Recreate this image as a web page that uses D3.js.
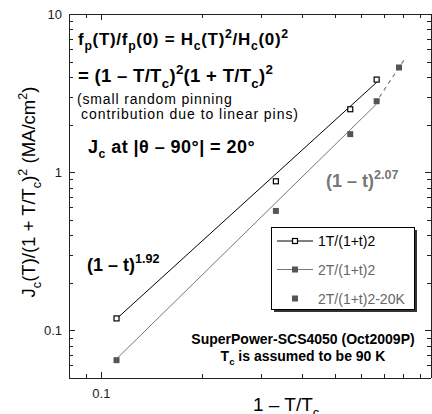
<!DOCTYPE html>
<html>
<head>
<meta charset="utf-8">
<script src="https://cdn.jsdelivr.net/npm/d3@7/dist/d3.min.js"></script>
<style>
  html, body { margin: 0; padding: 0; background: #fff; }
  svg { display: block; font-family: "Liberation Sans", Arial, Helvetica, sans-serif; }
</style>
</head>
<body>
<svg id="chart" width="432" height="414"></svg>
<script>
// 1 - T/Tc for the measured temperatures (80, 60, 40, 30 K; Tc = 90 K)
const oneMinusT = [0.111, 0.333, 0.556, 0.667];
// Jc(T)/(1+T/Tc)^2 in MA/cm^2
const jc1T = [0.119, 0.876, 2.50, 3.85];
const jc2T = [0.0648, 0.569, 1.74, 2.81];
// extra 2 T point at 20 K
const x20K = [0.778];
const jc2T20K = [4.59];
// power-law fits A(1-t)^n
const fitExponents = [1.92, 2.07];
const fitPrefactors = [8.05, 6.25];
const fitRange = [0.111, 0.667];
// dashed extrapolation of the 2 T data through the 20 K point
const extrapX = [0.667, 0.817];
const extrapY = [2.81, 5.36];
// axis ticks
const xMajor = [0.1, 1];
const yMajor = [0.1, 1, 10];
const legendLabels = ["1T/(1+t)2", "2T/(1+t)2", "2T/(1+t)2-20K"];

const svg = d3.select("#chart");
const L = 69, R = 431, T = 14, B = 378;
const x = d3.scaleLog().domain([0.08, 0.97]).range([L, R]);
const y = d3.scaleLog().domain([0.05, 10]).range([B, T]);

const black = "#000", gray = "#777", mark = "#555";

// minor ticks across every decade in the domain
function minors(scale) {
  const [a, b] = scale.domain();
  const out = [];
  for (let e = Math.floor(Math.log10(a)); e <= Math.ceil(Math.log10(b)); e++) {
    for (let m = 1; m < 10; m++) {
      const v = m * Math.pow(10, e);
      if (v >= a * 0.999 && v <= b * 1.001) out.push(v);
    }
  }
  return out;
}
const xTicks = minors(x), yTicks = minors(y);
const isMajor = v => Math.abs(Math.log10(v) - Math.round(Math.log10(v))) < 1e-6;

// frame
const axes = svg.append("g").attr("stroke", "#222").attr("stroke-width", 1).attr("fill", "none");
axes.append("line").attr("x1", L).attr("x2", R).attr("y1", B + 0.5).attr("y2", B + 0.5);
axes.append("line").attr("x1", L).attr("x2", R).attr("y1", T + 0.5).attr("y2", T + 0.5);
axes.append("line").attr("x1", L + 0.5).attr("x2", L + 0.5).attr("y1", T).attr("y2", B);
axes.append("line").attr("x1", R + 0.5).attr("x2", R + 0.5).attr("y1", T).attr("y2", B);

// inward ticks on all four sides
xTicks.forEach(v => {
  const len = isMajor(v) ? 6 : 4, px = Math.round(x(v)) + 0.5;
  axes.append("line").attr("x1", px).attr("x2", px).attr("y1", B).attr("y2", B - len);
  axes.append("line").attr("x1", px).attr("x2", px).attr("y1", T).attr("y2", T + len);
});
yTicks.forEach(v => {
  const len = isMajor(v) ? 6 : 4, py = Math.round(y(v)) + 0.5;
  axes.append("line").attr("x1", L).attr("x2", L + len).attr("y1", py).attr("y2", py);
  axes.append("line").attr("x1", R).attr("x2", R - len).attr("y1", py).attr("y2", py);
});

// tick labels
svg.append("g").selectAll("text").data(yMajor).join("text")
  .attr("x", L - 7).attr("y", d => y(d) + 4.5)
  .attr("text-anchor", "end").attr("font-size", 13).attr("fill", "#222")
  .text(d => d3.format("~g")(d));
svg.append("g").selectAll("text").data(xMajor.filter(v => v <= x.domain()[1])).join("text")
  .attr("x", d => x(d)).attr("y", 398)
  .attr("text-anchor", "middle").attr("font-size", 13).attr("fill", "#222")
  .text(d => d3.format("~g")(d));

// rich text helper: segments [text, mode] with mode "" | "sub" | "sup"
function rich(parent, px, py, segs, opts) {
  const size = opts.size, small = opts.small || 0.68;
  const t = parent.append("text").attr("x", px).attr("y", py)
    .attr("font-size", size).attr("font-weight", opts.bold ? "bold" : "normal")
    .attr("fill", opts.fill || black)
    .attr("letter-spacing", opts.spacing || 0)
    .attr("text-anchor", opts.anchor || "start");
  let level = 0;
  segs.forEach(([s, mode]) => {
    const target = mode === "sub" ? size * 0.3 : mode === "sup" ? -size * 0.42 : 0;
    t.append("tspan").attr("dy", target - level)
      .attr("font-size", mode ? size * small : size).text(s);
    level = target;
  });
  return t;
}

// fit lines
const fitStyle = [{ c: black }, { c: gray }];
fitExponents.forEach((n, i) => {
  const pts = fitRange.map(v => [x(v), y(fitPrefactors[i] * Math.pow(v, n))]);
  svg.append("path").attr("d", d3.line()(pts))
    .attr("stroke", fitStyle[i].c).attr("stroke-width", 1).attr("fill", "none");
});
// extrapolation
svg.append("path")
  .attr("d", d3.line()(extrapX.map((v, i) => [x(v), y(extrapY[i])])))
  .attr("stroke", gray).attr("stroke-width", 1.2).attr("fill", "none")
  .attr("stroke-dasharray", "4,4").attr("stroke-dashoffset", -5);

// markers
svg.append("g").selectAll("rect").data(oneMinusT.map((v, i) => [v, jc1T[i]])).join("rect")
  .attr("x", d => x(d[0]) - 2.5).attr("y", d => y(d[1]) - 2.5)
  .attr("width", 5).attr("height", 5)
  .attr("fill", "#fff").attr("stroke", black).attr("stroke-width", 1.2);
svg.append("g").selectAll("rect").data(oneMinusT.map((v, i) => [v, jc2T[i]])).join("rect")
  .attr("x", d => x(d[0]) - 3).attr("y", d => y(d[1]) - 3)
  .attr("width", 6).attr("height", 6).attr("fill", mark);
svg.append("g").selectAll("rect").data(x20K.map((v, i) => [v, jc2T20K[i]])).join("rect")
  .attr("x", d => x(d[0]) - 3).attr("y", d => y(d[1]) - 3)
  .attr("width", 6).attr("height", 6).attr("fill", mark);

// annotations
rich(svg, 78, 45, [["f"], ["p", "sub"], ["(T)/f"], ["p", "sub"], ["(0) = H"], ["c", "sub"], ["(T)"], ["2", "sup"], ["/H"], ["c", "sub"], ["(0)"], ["2", "sup"]], { size: 17, bold: true, small: 0.72, spacing: 0.7 });
rich(svg, 78, 82, [["= (1 \u2013 T/T"], ["c", "sub"], [")"], ["2", "sup"], ["(1 + T/T"], ["c", "sub"], [")"], ["2", "sup"]], { size: 18.5, bold: true, small: 0.72, spacing: 0.3 });
rich(svg, 77, 104, [["(small random pinning"]], { size: 14, spacing: 0.85 });
rich(svg, 81, 119, [["contribution due to linear pins)"]], { size: 14, spacing: 0.95 });
rich(svg, 88, 153, [["J"], ["c", "sub"], [" at |\u03b8 \u2013 90\u00b0| = 20\u00b0"]], { size: 18, bold: true, spacing: 0.45 });
rich(svg, 87, 271, [["(1 \u2013 t)"], ["1.92", "sup"]], { size: 18, bold: true, small: 0.7 });
rich(svg, 326, 187, [["(1 \u2013 t)"], ["2.07", "sup"]], { size: 18, bold: true, fill: gray, small: 0.7 });
rich(svg, 303, 344, [["SuperPower-SCS4050 (Oct2009P)"]], { size: 14, bold: true, anchor: "middle" });
rich(svg, 303, 361, [["T"], ["c", "sub"], [" is assumed to be 90 K"]], { size: 14, bold: true, anchor: "middle" });

// axis titles
rich(svg, 253, 411, [["1 \u2013 T/T"], ["c", "sub"]], { size: 19 });
const yt = svg.append("g").attr("transform", "translate(35,192) rotate(-90)");
rich(yt, 0, 0, [["J"], ["c", "sub"], ["(T)/(1 + T/T"], ["c", "sub"], [")"], ["2", "sup"], [" (MA/cm"], ["2", "sup"], [")"]], { size: 18.5, anchor: "middle" });

// legend
const lg = svg.append("g");
lg.append("rect").attr("x", 274).attr("y", 230).attr("width", 143).attr("height", 82).attr("fill", "#333");
lg.append("rect").attr("x", 271.5).attr("y", 227.5).attr("width", 143).attr("height", 82)
  .attr("fill", "#fff").attr("stroke", black).attr("stroke-width", 1);
const rowsY = [241, 269.5, 298.5];
const lineX = [277, 313], markX = 295;
lg.append("line").attr("x1", lineX[0]).attr("x2", lineX[1]).attr("y1", rowsY[0]).attr("y2", rowsY[0]).attr("stroke", black);
lg.append("rect").attr("x", markX - 2.5).attr("y", rowsY[0] - 2.5).attr("width", 5).attr("height", 5)
  .attr("fill", "#fff").attr("stroke", black).attr("stroke-width", 1.2);
lg.append("line").attr("x1", lineX[0]).attr("x2", lineX[1]).attr("y1", rowsY[1]).attr("y2", rowsY[1]).attr("stroke", gray);
lg.append("rect").attr("x", markX - 3).attr("y", rowsY[1] - 3).attr("width", 6).attr("height", 6).attr("fill", mark);
lg.append("rect").attr("x", markX - 3).attr("y", rowsY[2] - 3).attr("width", 6).attr("height", 6).attr("fill", mark);
lg.selectAll("text.lab").data(legendLabels).join("text").attr("class", "lab")
  .attr("x", 318).attr("y", (d, i) => rowsY[i] + 5)
  .attr("font-size", 14).attr("fill", (d, i) => i === 0 ? black : "#666")
  .text(d => d);
</script>
</body>
</html>
